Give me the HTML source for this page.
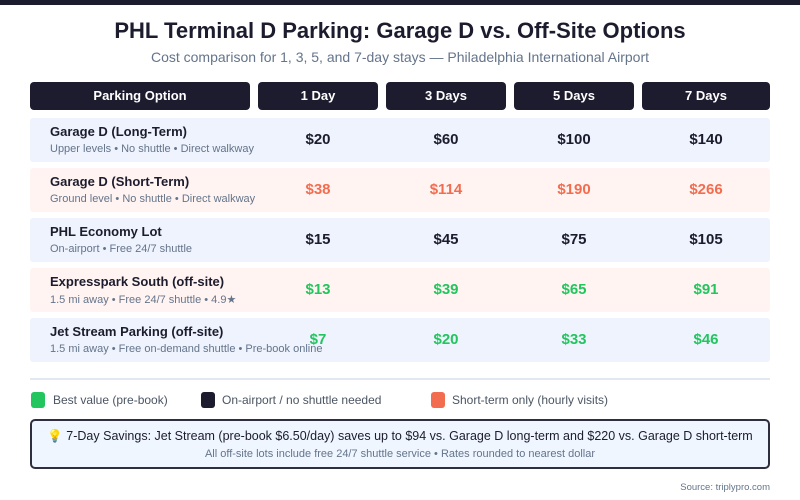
<!DOCTYPE html>
<html><head><style>
body{margin:0;width:800px;height:500px;background:#fff;font-family:"Liberation Sans",sans-serif;position:relative;overflow:hidden;color:#1c1c2e}
.a{position:absolute}
.top{left:0;top:0;width:800px;height:5px;background:#1c1c2e}
.h{background:#1c1c2e;color:#fff;font-weight:bold;font-size:13px;text-align:center;line-height:28px;top:82px;height:28px;border-radius:4px}
.row{left:30px;width:740px;height:44px;border-radius:3px}
.nm{left:50px;font-weight:bold;font-size:13px}
.sb{left:50px;font-size:11px;color:#64748b}
.v{font-weight:bold;font-size:15px;text-align:center;width:120px}
.o{color:#f26d50}.g{color:#22c55e}
.sq{width:14px;height:16px;border-radius:3px;top:392px}
.lg{font-size:12px;color:#4b5563;top:393px}
</style></head><body>
<div class="a top"></div>
<div class="a" style="left:0;width:800px;top:18px;text-align:center;font-weight:bold;font-size:22px">PHL Terminal D Parking: Garage D vs. Off-Site Options</div>
<div class="a" style="left:0;width:800px;top:49px;text-align:center;font-size:14px;color:#64748b">Cost comparison for 1, 3, 5, and 7-day stays — Philadelphia International Airport</div>
<div class="a h" style="left:30px;width:220px">Parking Option</div>
<div class="a h" style="left:258px;width:120px">1 Day</div>
<div class="a h" style="left:386px;width:120px">3 Days</div>
<div class="a h" style="left:514px;width:120px">5 Days</div>
<div class="a h" style="left:642px;width:128px">7 Days</div>

<div class="a row" style="top:118px;background:#eef3fd"></div>
<div class="a row" style="top:168px;background:#fff4f1"></div>
<div class="a row" style="top:218px;background:#eef3fd"></div>
<div class="a row" style="top:268px;background:#fff4f1"></div>
<div class="a row" style="top:318px;background:#eef3fd"></div>

<div class="a nm" style="top:124px">Garage D (Long-Term)</div>
<div class="a sb" style="top:143px">Upper levels • No shuttle • Direct walkway</div>
<div class="a v" style="left:258px;top:131px">$20</div><div class="a v" style="left:386px;top:131px">$60</div><div class="a v" style="left:514px;top:131px">$100</div><div class="a v" style="left:646px;top:131px">$140</div>

<div class="a nm" style="top:174px">Garage D (Short-Term)</div>
<div class="a sb" style="top:193px">Ground level • No shuttle • Direct walkway</div>
<div class="a v o" style="left:258px;top:181px">$38</div><div class="a v o" style="left:386px;top:181px">$114</div><div class="a v o" style="left:514px;top:181px">$190</div><div class="a v o" style="left:646px;top:181px">$266</div>

<div class="a nm" style="top:224px">PHL Economy Lot</div>
<div class="a sb" style="top:243px">On-airport • Free 24/7 shuttle</div>
<div class="a v" style="left:258px;top:231px">$15</div><div class="a v" style="left:386px;top:231px">$45</div><div class="a v" style="left:514px;top:231px">$75</div><div class="a v" style="left:646px;top:231px">$105</div>

<div class="a nm" style="top:274px">Expresspark South (off-site)</div>
<div class="a sb" style="top:293px">1.5 mi away • Free 24/7 shuttle • 4.9★</div>
<div class="a v g" style="left:258px;top:281px">$13</div><div class="a v g" style="left:386px;top:281px">$39</div><div class="a v g" style="left:514px;top:281px">$65</div><div class="a v g" style="left:646px;top:281px">$91</div>

<div class="a nm" style="top:324px">Jet Stream Parking (off-site)</div>
<div class="a sb" style="top:343px">1.5 mi away • Free on-demand shuttle • Pre-book online</div>
<div class="a v g" style="left:258px;top:331px">$7</div><div class="a v g" style="left:386px;top:331px">$20</div><div class="a v g" style="left:514px;top:331px">$33</div><div class="a v g" style="left:646px;top:331px">$46</div>

<div class="a" style="left:30px;top:378px;width:740px;height:2px;background:#e2e8f0"></div>
<div class="a sq" style="left:31px;background:#22c55e"></div><div class="a lg" style="left:53px">Best value (pre-book)</div>
<div class="a sq" style="left:201px;background:#1c1c2e"></div><div class="a lg" style="left:222px">On-airport / no shuttle needed</div>
<div class="a sq" style="left:431px;background:#f26d50"></div><div class="a lg" style="left:452px">Short-term only (hourly visits)</div>

<div class="a" style="left:30px;top:419px;width:736px;height:46px;border:2px solid #2e2e3e;border-radius:5px;background:#eff6ff"></div>
<div class="a" style="left:30px;width:740px;top:429px;text-align:center;font-size:12.5px;color:#1c1c2e">💡 7-Day Savings: Jet Stream (pre-book $6.50/day) saves up to $94 vs. Garage D long-term and $220 vs. Garage D short-term</div>
<div class="a" style="left:30px;width:740px;top:448px;text-align:center;font-size:11px;color:#64748b">All off-site lots include free 24/7 shuttle service • Rates rounded to nearest dollar</div>
<div class="a" style="right:30px;top:482px;font-size:9.5px;color:#64748b">Source: triplypro.com</div>
</body></html>
